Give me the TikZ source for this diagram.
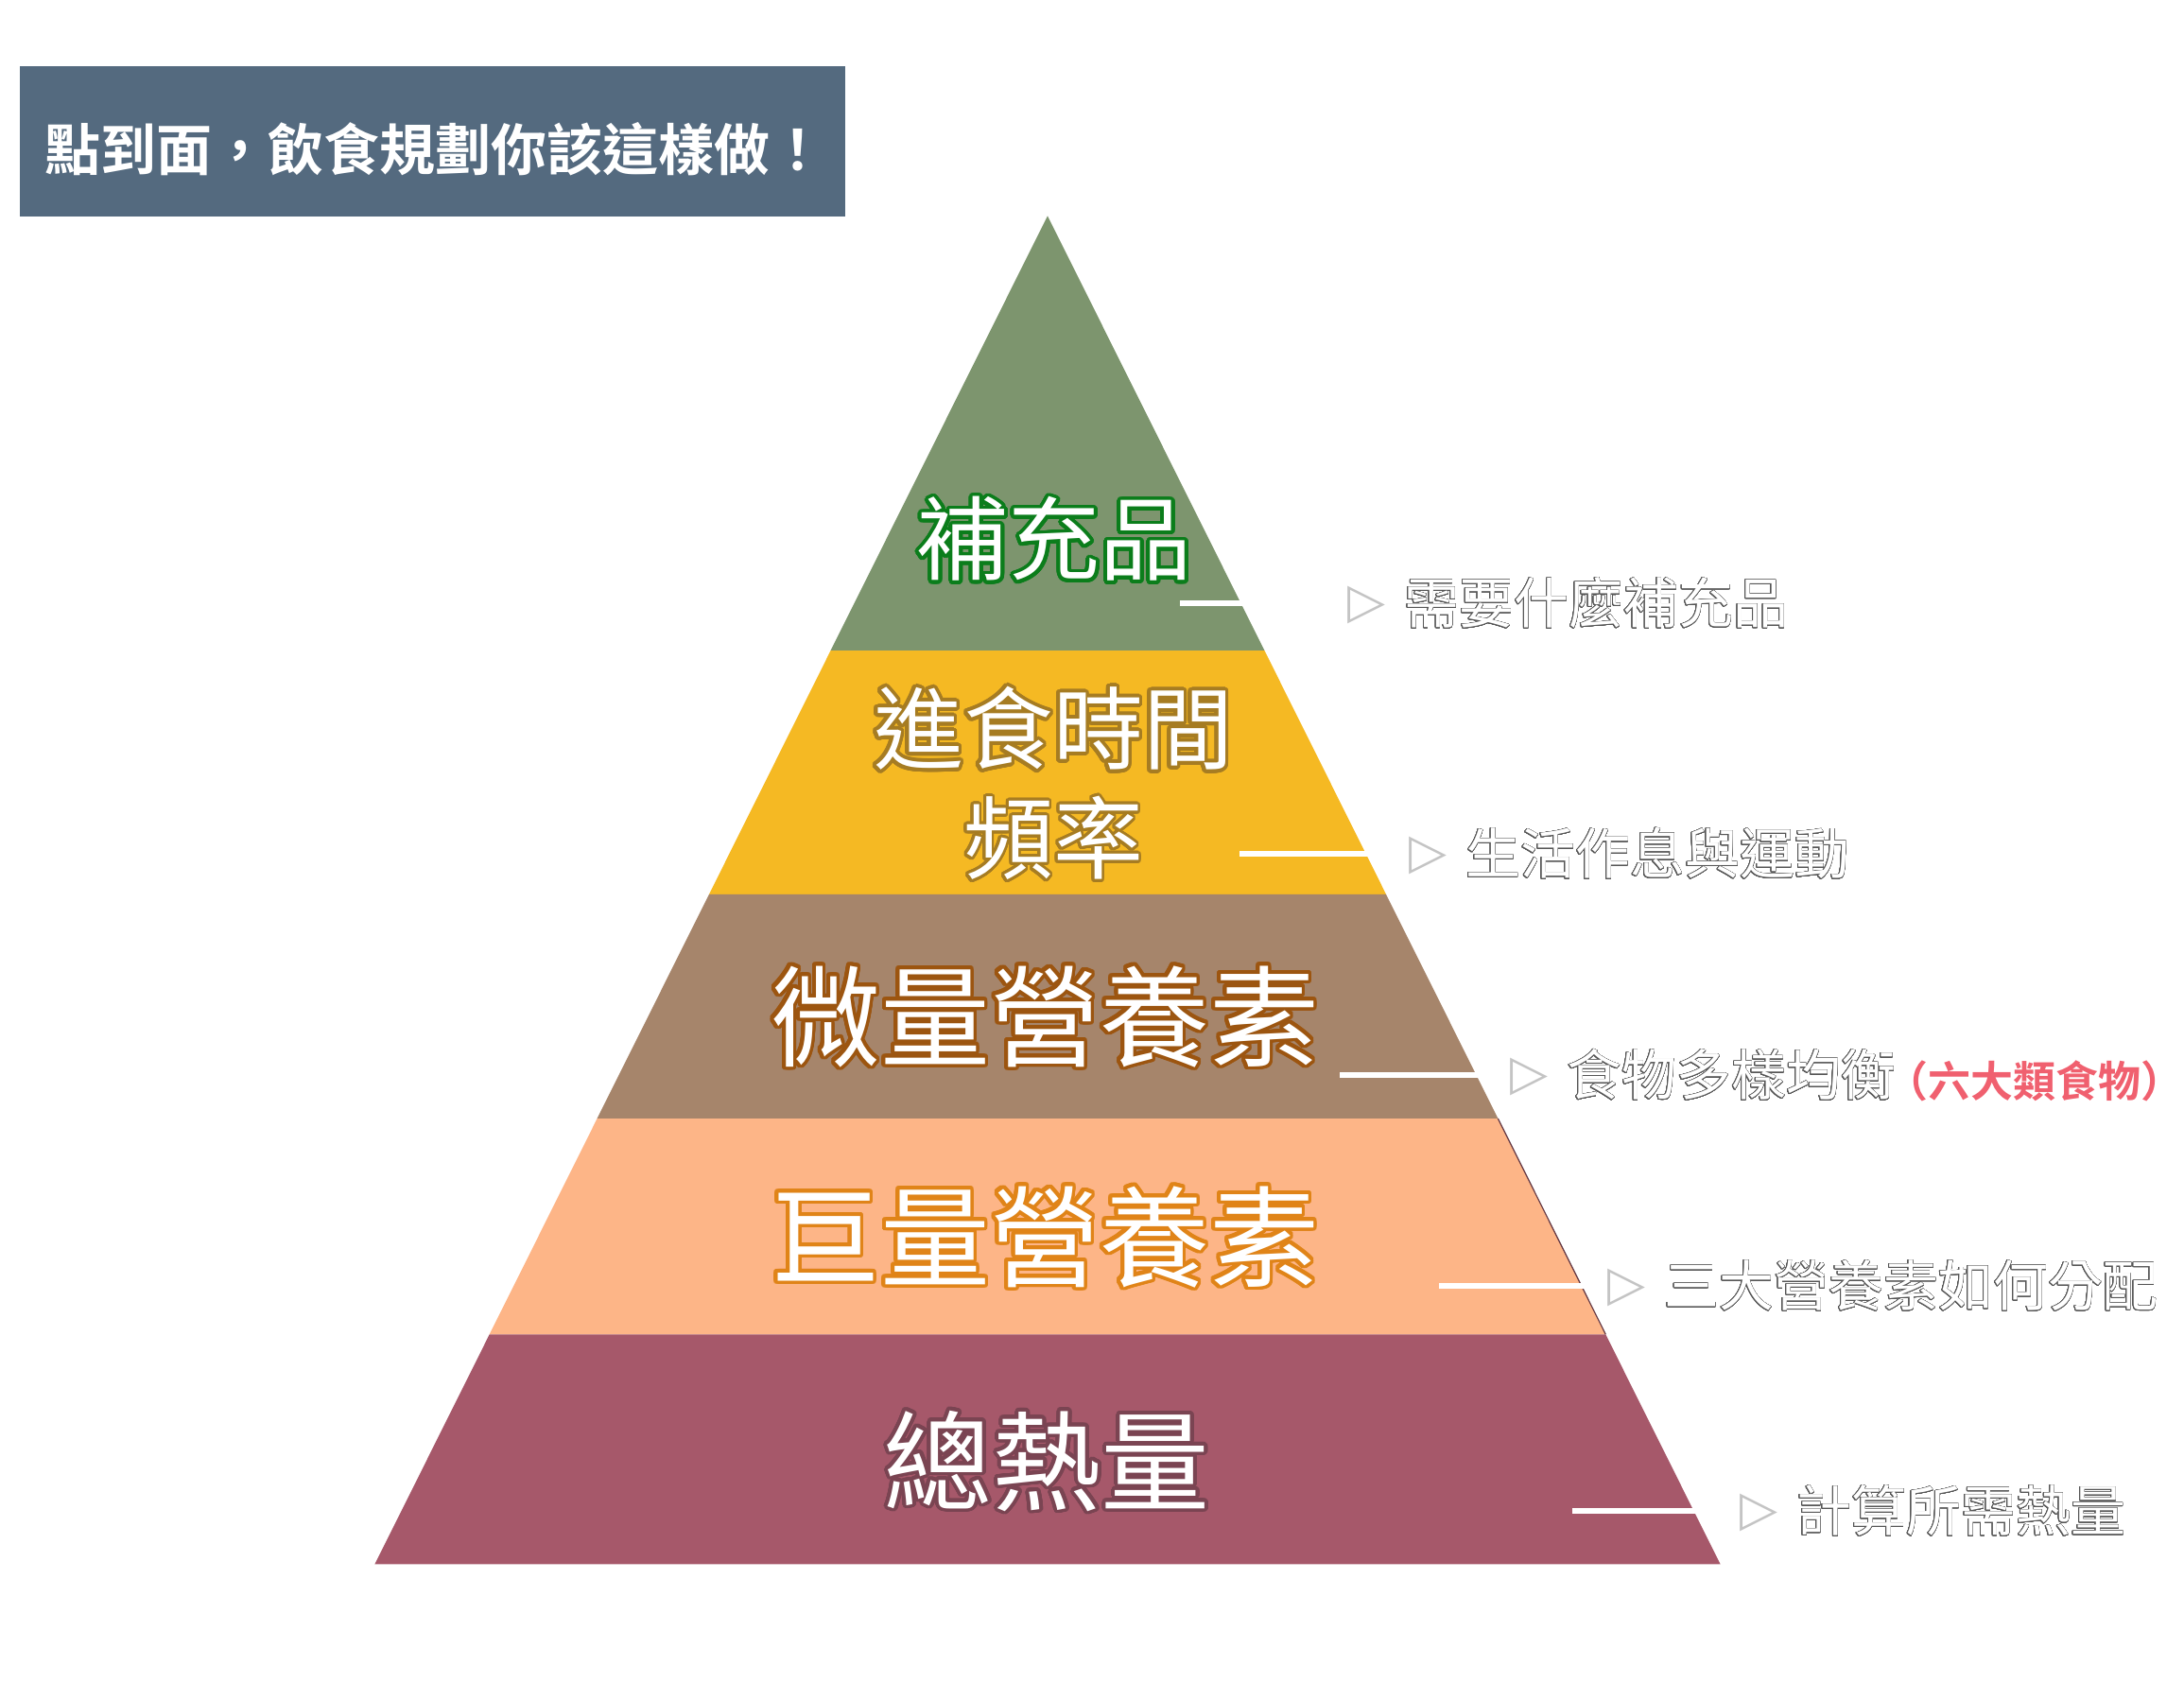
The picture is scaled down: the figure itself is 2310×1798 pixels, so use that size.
\documentclass[tikz,border=0pt]{standalone}
\usepackage{fontspec}
\usepackage{contour}
\newfontfamily\cjk{Noto Sans CJK TC}
\newfontfamily\cjkbold{Noto Sans CJK TC Bold}
\newfontfamily\marker{DejaVu Sans}
\contournumber{32}

\definecolor{titlebg}{HTML}{546A7F}
\definecolor{tierA}{HTML}{7D956E}
\definecolor{tierB}{HTML}{F5B923}
\definecolor{tierC}{HTML}{A6856B}
\definecolor{tierD}{HTML}{FDB587}
\definecolor{tierE}{HTML}{A6586A}
\definecolor{ringA}{HTML}{0B7D1B}
\definecolor{ringB}{HTML}{A67C22}
\definecolor{ringC}{HTML}{9C5510}
\definecolor{ringD}{HTML}{E08418}
\definecolor{ringE}{HTML}{7A4452}
\definecolor{noteedge}{HTML}{555555}
\definecolor{markeredge}{HTML}{C4C4C4}
\definecolor{accent}{HTML}{F0606F}

\begin{document}
\begin{tikzpicture}[x=1pt,y=-1pt,
  tierlabel/.style={inner sep=0pt, text=white, align=center},
  noteline/.style={draw=white, line width=6pt},
  note/.style={inner sep=0pt, anchor=west, text=white,
    font=\cjk\fontsize{58}{58}\selectfont},
  bullet/.style={inner sep=0pt, anchor=west, text=markeredge,
    font=\marker\fontsize{52}{52}\selectfont},
]
\useasboundingbox (0,0) rectangle (2310,1798);
\fill[white] (0,0) rectangle (2310,1798);

% heading banner
\node[fill=titlebg, minimum width=873pt, minimum height=159pt, inner sep=0pt]
  (titlebox) at (457,150) {};
\node[inner sep=0pt, text=white, font=\cjkbold\fontsize{59}{59}\selectfont]
  (titletext) at (460,158) {點到面，飲食規劃你該這樣做！};

% pyramid tiers, apex at (1108,228), base y = 1654
\fill[tierA] (1108,228.3) -- (1337.4,688) -- (878.6,688) -- cycle;
\fill[tierB] (878.6,688) -- (1337.4,688) -- (1466,945.8) -- (750,945.8) -- cycle;
\fill[tierC] (750,945.8) -- (1466,945.8) -- (1584.4,1183) -- (631.6,1183) -- cycle;
\fill[tierD] (631.6,1183) -- (1584.4,1183) -- (1698.3,1411.3) -- (517.7,1411.3) -- cycle;
\fill[tierE] (517.7,1411.3) -- (1698.3,1411.3) -- (1819.6,1654.4) -- (396.4,1654.4) -- cycle;
\draw[ringE!80!black, line width=1.2pt] (1584.4,1183) -- (1698.3,1411.3);

% tier titles
\node[tierlabel, font=\cjk\fontsize{97}{97}\selectfont] (t1) at (1115,572)
  {\contourlength{3.8pt}\contour{ringA}{補充品}};
\node[tierlabel, font=\cjk\fontsize{95}{116}\selectfont] (t2) at (1114,830)
  {\contourlength{3.8pt}\contour{ringB}{進食時間}\\\contour{ringB}{頻率}};
\node[tierlabel, font=\cjk\fontsize{116}{116}\selectfont] (t3) at (1105,1077)
  {\contourlength{3.8pt}\contour{ringC}{微量營養素}};
\node[tierlabel, font=\cjk\fontsize{116}{116}\selectfont] (t4) at (1105,1310)
  {\contourlength{3.8pt}\contour{ringD}{巨量營養素}};
\node[tierlabel, font=\cjk\fontsize{115}{115}\selectfont] (t5) at (1107,1547)
  {\contourlength{3.8pt}\contour{ringE}{總熱量}};

% side notes: marker, then text
\node[bullet] (m1) at (1425,640) {▷};
\node[bullet] (m2) at (1490,905) {▷};
\node[bullet] (m3) at (1597,1139) {▷};
\node[bullet] (m4) at (1700,1362) {▷};
\node[bullet] (m5) at (1840,1600) {▷};
\node[note] (n1) at (1485,638) {\contourlength{0.45pt}\contour{noteedge}{需要什麼補充品}};
\node[note] (n2) at (1550,903) {\contourlength{0.45pt}\contour{noteedge}{生活作息與運動}};
\node[note] (n3) at (1657,1137) {\contourlength{0.45pt}\contour{noteedge}{食物多樣均衡}};
\node[inner sep=0pt, anchor=west, text=accent, font=\cjkbold\fontsize{45}{45}\selectfont]
  (n3x) at (1994,1143) {（六大類食物）};
\node[note] (n4) at (1760,1360) {\contourlength{0.45pt}\contour{noteedge}{三大營養素如何分配}};
\node[note] (n5) at (1900,1598) {\contourlength{0.45pt}\contour{noteedge}{計算所需熱量}};

% leader lines from each tier to its marker
\coordinate (s1) at (1248,638);
\coordinate (s2) at (1311,903);
\coordinate (s3) at (1417,1137);
\coordinate (s4) at (1522,1360);
\coordinate (s5) at (1663,1598);
\draw[noteline] (s1) -- (m1.west |- s1);
\draw[noteline] (s2) -- (m2.west |- s2);
\draw[noteline] (s3) -- (m3.west |- s3);
\draw[noteline] (s4) -- (m4.west |- s4);
\draw[noteline] (s5) -- (m5.west |- s5);
\end{tikzpicture}
\end{document}
